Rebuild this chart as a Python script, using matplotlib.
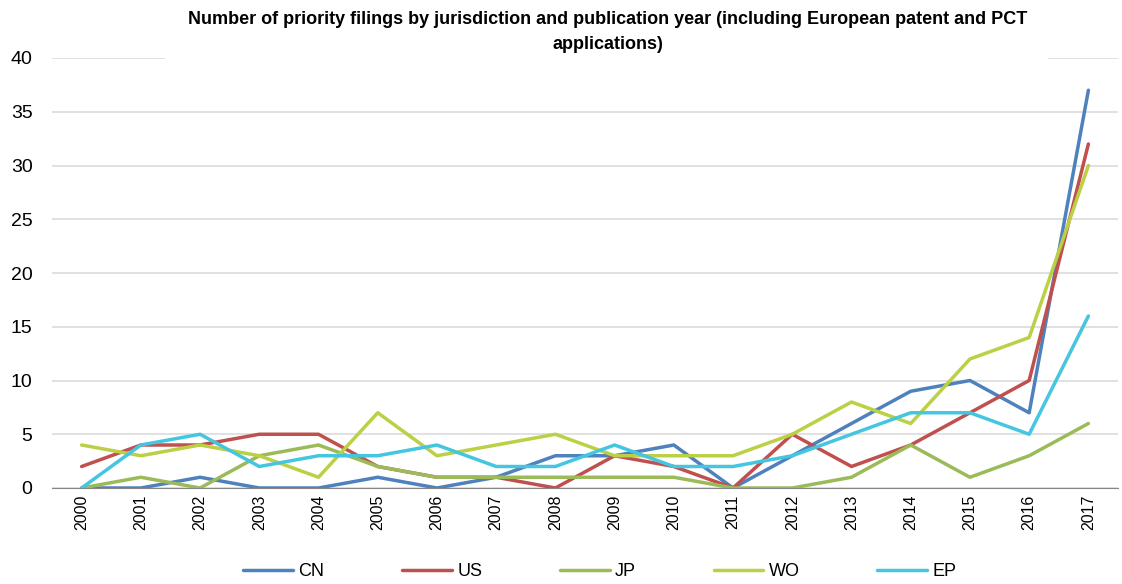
import numpy as np
import matplotlib
matplotlib.use('agg')
import matplotlib.pyplot as plt

years = [str(y) for y in range(2000, 2018)]
cn = [0, 0, 1, 0, 0, 1, 0, 1, 3, 3, 4, 0, 3, 6, 9, 10, 7, 37]
us = [2, 4, 4, 5, 5, 2, 1, 1, 0, 3, 2, 0, 5, 2, 4, 7, 10, 32]
jp = [0, 1, 0, 3, 4, 2, 1, 1, 1, 1, 1, 0, 0, 1, 4, 1, 3, 6]
wo = [4, 3, 4, 3, 1, 7, 3, 4, 5, 3, 3, 3, 5, 8, 6, 12, 14, 30]
ep = [0, 4, 5, 2, 3, 3, 4, 2, 2, 4, 2, 2, 3, 5, 7, 7, 5, 16]

series = [('CN', cn, '#4F81BD'), ('US', us, '#C0504D'), ('JP', jp, '#9BBB59'),
          ('WO', wo, '#BBD045'), ('EP', ep, '#45C6E0')]

plt.rcParams['font.family'] = ['Liberation Sans', 'DejaVu Sans']

fig = plt.figure(figsize=(11.22, 5.84), dpi=100)
ax = fig.add_axes([52 / 1122, 1 - 488 / 584, 1066 / 1122, 430 / 584])

x = np.arange(len(years))
for name, vals, col in series:
    ax.plot(x, vals, color=col, lw=2.5, label=name, solid_capstyle='round')

ax.set_xlim(-0.5, len(years) - 0.5)
ax.set_ylim(0, 40)
ax.set_yticks(range(0, 41, 5))
ax.set_xticks(x)
ax.set_xticklabels(years, rotation=90, fontsize=11.5)
ax.tick_params(axis='y', labelsize=14, length=0, pad=14)
ax.tick_params(axis='x', length=0, pad=5)
ax.yaxis.grid(True, color='#D9D9D9', lw=1.1)
ax.set_axisbelow(True)
for s in ['top', 'right', 'left']:
    ax.spines[s].set_visible(False)
ax.spines['bottom'].set_color('#868686')

# white box behind the title hides the top gridline, as in the original
fig.patches.append(plt.Rectangle((165 / 1122, 1 - 64 / 584), 883 / 1122, 60 / 584,
                                 transform=fig.transFigure, facecolor='white',
                                 edgecolor='none', zorder=5))
fig.text(608 / 1122, 1 - 32 / 584,
         'Number of priority filings by jurisdiction and publication year (including European patent and PCT\napplications)',
         ha='center', va='center', fontsize=13, fontweight='bold', linespacing=1.55,
         zorder=6)

ax.legend(loc='center', bbox_to_anchor=(0.514, -0.195), ncol=5, frameon=False,
          fontsize=13, handlelength=2.75, columnspacing=4.3, handletextpad=0.3)

fig.savefig('out.png', dpi=100)
